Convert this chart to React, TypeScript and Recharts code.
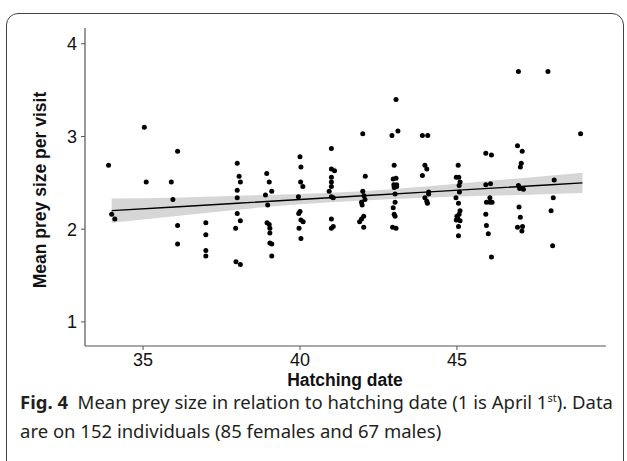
import React from "react";
import {
  ComposedChart,
  Scatter,
  Area,
  Line,
  XAxis,
  YAxis,
} from "recharts";

// mean prey size per visit vs hatching date
const preyPoints = [
  { x: 33.9, y: 2.69 }, { x: 34.0, y: 2.16 }, { x: 34.1, y: 2.11 },
  { x: 35.04, y: 3.1 }, { x: 35.1, y: 2.51 },
  { x: 36.1, y: 2.84 }, { x: 35.9, y: 2.51 }, { x: 35.95, y: 2.32 }, { x: 36.1, y: 2.04 }, { x: 36.1, y: 1.84 },
  { x: 37.0, y: 2.07 }, { x: 37.0, y: 1.94 }, { x: 37.0, y: 1.77 }, { x: 37.0, y: 1.71 },
  { x: 38.0, y: 2.71 }, { x: 38.06, y: 2.57 }, { x: 38.1, y: 2.51 }, { x: 38.0, y: 2.42 }, { x: 38.0, y: 2.34 },
  { x: 38.0, y: 2.17 }, { x: 38.1, y: 2.09 }, { x: 37.95, y: 2.01 }, { x: 37.96, y: 1.65 }, { x: 38.1, y: 1.62 },
  { x: 38.94, y: 2.6 }, { x: 39.02, y: 2.51 }, { x: 39.1, y: 2.41 }, { x: 38.9, y: 2.37 }, { x: 38.97, y: 2.26 },
  { x: 38.95, y: 2.07 }, { x: 39.02, y: 2.05 }, { x: 39.04, y: 2.01 }, { x: 39.04, y: 1.96 }, { x: 39.04, y: 1.85 },
  { x: 39.1, y: 1.84 }, { x: 39.1, y: 1.71 },
  { x: 40.0, y: 2.78 }, { x: 40.03, y: 2.67 }, { x: 40.02, y: 2.51 }, { x: 40.09, y: 2.46 }, { x: 39.95, y: 2.35 },
  { x: 40.0, y: 2.19 }, { x: 39.96, y: 2.17 }, { x: 40.03, y: 2.1 }, { x: 40.1, y: 2.08 }, { x: 39.97, y: 2.01 },
  { x: 40.03, y: 1.9 },
  { x: 41.0, y: 2.87 }, { x: 41.0, y: 2.65 }, { x: 41.1, y: 2.63 }, { x: 41.0, y: 2.56 }, { x: 41.0, y: 2.51 },
  { x: 41.0, y: 2.46 }, { x: 40.93, y: 2.41 }, { x: 41.0, y: 2.35 }, { x: 41.06, y: 2.34 }, { x: 41.0, y: 2.11 },
  { x: 41.0, y: 2.01 }, { x: 41.06, y: 2.03 },
  { x: 42.0, y: 3.03 }, { x: 42.08, y: 2.57 }, { x: 42.0, y: 2.41 }, { x: 42.04, y: 2.36 }, { x: 42.07, y: 2.32 },
  { x: 41.96, y: 2.29 }, { x: 41.98, y: 2.26 }, { x: 42.03, y: 2.14 }, { x: 41.96, y: 2.11 }, { x: 41.9, y: 2.08 },
  { x: 42.03, y: 2.02 },
  { x: 43.06, y: 3.4 }, { x: 42.93, y: 3.01 }, { x: 43.12, y: 3.06 }, { x: 43.0, y: 2.69 }, { x: 43.06, y: 2.55 },
  { x: 42.97, y: 2.54 }, { x: 42.99, y: 2.48 }, { x: 43.08, y: 2.48 }, { x: 43.0, y: 2.45 }, { x: 43.08, y: 2.46 },
  { x: 43.03, y: 2.38 }, { x: 43.03, y: 2.29 }, { x: 42.97, y: 2.23 }, { x: 43.0, y: 2.16 }, { x: 43.03, y: 2.14 },
  { x: 42.95, y: 2.02 }, { x: 43.06, y: 2.01 },
  { x: 43.9, y: 3.01 }, { x: 44.07, y: 3.01 }, { x: 43.98, y: 2.69 }, { x: 44.04, y: 2.65 }, { x: 43.9, y: 2.58 },
  { x: 43.98, y: 2.34 }, { x: 44.1, y: 2.4 }, { x: 44.1, y: 2.38 }, { x: 44.04, y: 2.3 }, { x: 44.06, y: 2.28 },
  { x: 45.04, y: 2.69 }, { x: 44.98, y: 2.56 }, { x: 45.06, y: 2.56 }, { x: 45.1, y: 2.51 }, { x: 45.07, y: 2.47 },
  { x: 45.08, y: 2.4 }, { x: 44.97, y: 2.34 }, { x: 45.05, y: 2.28 }, { x: 45.1, y: 2.2 }, { x: 45.07, y: 2.16 },
  { x: 45.0, y: 2.14 }, { x: 45.02, y: 2.12 }, { x: 44.98, y: 2.1 }, { x: 45.1, y: 2.09 }, { x: 45.05, y: 2.03 },
  { x: 45.05, y: 1.93 },
  { x: 45.92, y: 2.82 }, { x: 46.1, y: 2.8 }, { x: 45.92, y: 2.48 }, { x: 46.07, y: 2.49 }, { x: 46.05, y: 2.34 },
  { x: 45.94, y: 2.29 }, { x: 46.05, y: 2.29 }, { x: 46.12, y: 2.29 }, { x: 45.92, y: 2.16 }, { x: 45.94, y: 2.04 },
  { x: 46.0, y: 1.95 }, { x: 46.1, y: 1.7 },
  { x: 46.96, y: 3.7 }, { x: 46.93, y: 2.9 }, { x: 47.08, y: 2.84 }, { x: 47.05, y: 2.71 }, { x: 47.02, y: 2.67 },
  { x: 46.96, y: 2.47 }, { x: 47.0, y: 2.44 }, { x: 47.12, y: 2.43 }, { x: 46.98, y: 2.24 }, { x: 47.02, y: 2.13 },
  { x: 46.93, y: 2.02 }, { x: 47.09, y: 2.03 }, { x: 47.07, y: 1.98 },
  { x: 47.9, y: 3.7 }, { x: 48.1, y: 2.53 }, { x: 48.07, y: 2.34 }, { x: 48.0, y: 2.2 }, { x: 48.05, y: 1.82 },
  { x: 48.94, y: 3.03 },
];

// linear fit and its 95% band, read at a few dates
const bandDates = [34, 36, 38, 40, 42, 44, 46, 48, 49];
const bandLow = [2.07, 2.14, 2.21, 2.27, 2.31, 2.34, 2.36, 2.38, 2.39];
const bandHigh = [2.33, 2.34, 2.36, 2.38, 2.41, 2.46, 2.52, 2.58, 2.61];
const fitValues = [2.2, 2.24, 2.28, 2.32, 2.36, 2.4, 2.44, 2.48, 2.5];

const xTicks = [35, 40, 45];
const yTicks = [1, 2, 3, 4];

const bandData = bandDates.map((x, i) => ({
  x,
  band: [bandLow[i], bandHigh[i]],
  fit: fitValues[i],
}));

const axisFont = "'Liberation Sans', Arial, sans-serif";

const Dot = (props: any) => (
  <circle cx={props.cx} cy={props.cy} r={2.5} fill="#000" />
);

export default function App() {
  return (
    <div style={{ position: "absolute", left: 0, top: 0, width: 627, height: 461, background: "#fff", overflow: "hidden" }}>
      {/* frame */}
      <div
        style={{
          position: "absolute",
          left: 6,
          top: 13,
          width: 618,
          height: 480,
          border: "1.3px solid #444",
          borderRadius: 12,
          boxSizing: "border-box",
        }}
      />

      <div style={{ position: "absolute", left: 0, top: 0 }}>
        <ComposedChart
          width={627}
          height={400}
          data={bandData}
          margin={{ top: 28, right: 21, left: 0, bottom: 0 }}
        >
          <XAxis
            dataKey="x"
            type="number"
            domain={[33.15, 49.75]}
            ticks={xTicks}
            allowDataOverflow
            height={54}
            tickSize={4}
            axisLine={{ stroke: "#555", strokeWidth: 1.2 }}
            tickLine={{ stroke: "#555" }}
            tick={{ fontSize: 18, fill: "#111", fontFamily: axisFont }}
            tickMargin={3}
          />
          <YAxis
            dataKey="y"
            type="number"
            domain={[0.74, 4.17]}
            ticks={yTicks}
            allowDataOverflow
            width={85}
            tickSize={4}
            axisLine={{ stroke: "#555", strokeWidth: 1.2 }}
            tickLine={{ stroke: "#555" }}
            tick={{ fontSize: 18, fill: "#111", fontFamily: axisFont }}
            tickMargin={4}
          />
          <Scatter data={preyPoints} shape={<Dot />} isAnimationActive={false} />
          <Area
            dataKey="band"
            type="monotone"
            stroke="none"
            fill="#999999"
            fillOpacity={0.4}
            isAnimationActive={false}
          />
          <Line
            dataKey="fit"
            type="linear"
            stroke="#000"
            strokeWidth={1.4}
            dot={false}
            activeDot={false}
            isAnimationActive={false}
          />
        </ComposedChart>
      </div>

      {/* axis titles */}
      <div
        style={{
          position: "absolute",
          left: 40,
          top: 190,
          transform: "translate(-50%, -50%) rotate(-90deg)",
          whiteSpace: "nowrap",
          fontFamily: axisFont,
          fontWeight: "bold",
          fontSize: 17.5,
          color: "#111",
        }}
      >
        Mean prey size per visit
      </div>
      <div
        style={{
          position: "absolute",
          left: 345,
          top: 380,
          transform: "translate(-50%, -50%)",
          whiteSpace: "nowrap",
          fontFamily: axisFont,
          fontWeight: "bold",
          fontSize: 17.5,
          color: "#111",
        }}
      >
        Hatching date
      </div>

      {/* caption */}
      <div
        style={{
          position: "absolute",
          left: 20,
          top: 387,
          width: 610,
          whiteSpace: "nowrap",
          fontFamily: "'Noto Sans', 'Open Sans', sans-serif",
          fontSize: 18.5,
          lineHeight: "29px",
          color: "#231f20",
        }}
      >
        <span style={{ fontWeight: "bold" }}>Fig. 4</span>
        {"\u00a0\u00a0"}Mean prey size in relation to hatching date (1 is April 1
        <sup style={{ fontSize: 11, verticalAlign: "7px", lineHeight: 0 }}>st</sup>
        ). Data
        <br />
        are on 152 individuals (85 females and 67 males)
      </div>
    </div>
  );
}
